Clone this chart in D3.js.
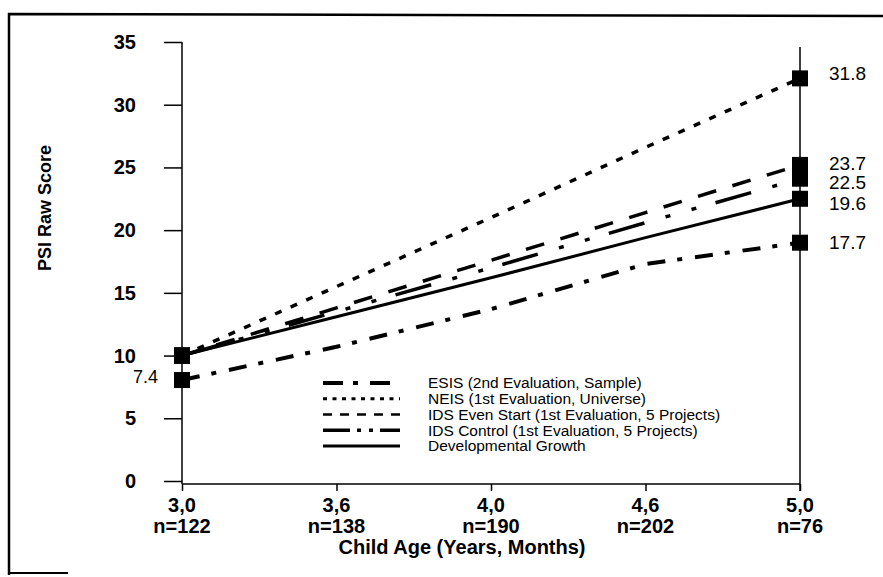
<!DOCTYPE html>
<html><head><meta charset="utf-8">
<script src="https://cdn.jsdelivr.net/npm/d3@7"></script>
<style>body{margin:0;background:#fff}svg{display:block}text{font-family:"Liberation Sans",Arial,sans-serif}</style>
</head><body><svg id="c" width="883" height="577"></svg>
<script>
const ages = ["3,0","3,6","4,0","4,6","5,0"];
const ns = ["n=122","n=138","n=190","n=202","n=76"];
const yTicks = [0,5,10,15,20,25,30,35];
const esis = [8.05, 10.7, 13.7, 17.3, 19.0];
const neis = [10.0, 15.5, 21.0, 26.6, 32.1];
const idsEven = [10.0, 13.8, 17.6, 21.4, 25.2];
const idsControl = [10.0, 13.5, 17.0, 20.6, 24.1];
const devGrowth = [10.0, 13.1, 16.2, 19.4, 22.5];
const seriesNames = ["ESIS (2nd Evaluation, Sample)","NEIS (1st Evaluation, Universe)","IDS Even Start (1st Evaluation, 5 Projects)","IDS Control (1st Evaluation, 5 Projects)","Developmental Growth"];
const endLabels = ["17.7","31.8","23.7","22.5","19.6"];
const startLabel = "7.4";

const svg = d3.select("#c");
const x = d3.scalePoint().domain(ages).range([182, 800]);
const y = d3.scaleLinear().domain([0, 35]).range([481, 42]);

const styles = [
  {dash:"18,12,5,13", w:4, ldash:"20,10,5,12", lw:4},
  {dash:"7,10", w:3.5, ldash:"4,5.5", lw:3},
  {dash:"19,17", w:3.5, ldash:"9,8", lw:2.5},
  {dash:"37,22,5,22,5,20", w:3.5, ldash:"27,7,4,8,4,7", lw:3.5},
  {dash:null, w:3, ldash:null, lw:3}
];
const data = [esis, neis, idsEven, idsControl, devGrowth];

// frame
svg.append("path").attr("d","M9,575 L9,14 L883,16").attr("fill","none").attr("stroke","#000").attr("stroke-width",2.5);
svg.append("line").attr("x1",9).attr("x2",68).attr("y1",573).attr("y2",573).attr("stroke","#000").attr("stroke-width",2);

// axes
const yAxis = d3.axisLeft(y).tickValues(yTicks).tickSize(18).tickFormat("");
const gy = svg.append("g").attr("transform","translate(182,0)").call(yAxis);
gy.select(".domain").remove();
gy.selectAll(".tick line").attr("stroke","#000").attr("stroke-width",1.5);
svg.append("line").attr("x1",182).attr("x2",182).attr("y1",y(35)).attr("y2",484).attr("stroke","#000").attr("stroke-width",1.5);
svg.selectAll(".ylab").data(yTicks).join("text").attr("class","ylab")
  .attr("x",136).attr("y",d=>y(d)).attr("dy","0.35em").attr("text-anchor","end")
  .attr("font-size",20).attr("font-weight","bold").text(d=>d);

const xAxis = d3.axisBottom(x).tickSize(7).tickFormat("");
const gx = svg.append("g").attr("transform","translate(0,484)").call(xAxis);
gx.select(".domain").remove();
gx.selectAll(".tick line").attr("stroke","#000").attr("stroke-width",1.5);
svg.append("line").attr("x1",182).attr("x2",800).attr("y1",484).attr("y2",484).attr("stroke","#000").attr("stroke-width",1.5);
svg.append("line").attr("x1",800).attr("x2",800).attr("y1",47).attr("y2",491).attr("stroke","#000").attr("stroke-width",1.5);

svg.selectAll(".xlab").data(ages).join("text").attr("class","xlab")
  .attr("x",d=>x(d)).attr("y",505).attr("dy","0.35em").attr("text-anchor","middle").attr("font-size",20).attr("font-weight","bold").text(d=>d);
svg.selectAll(".nlab").data(ns).join("text").attr("class","nlab")
  .attr("x",(d,i)=>x(ages[i])).attr("y",526).attr("dy","0.35em").attr("text-anchor","middle").attr("font-size",20).attr("font-weight","bold").text(d=>d);
svg.append("text").attr("x",462).attr("y",547).attr("dy","0.35em").attr("text-anchor","middle").attr("font-size",20).attr("font-weight","bold").text("Child Age (Years, Months)");
svg.append("text").attr("transform","translate(51,208) rotate(-90)").attr("text-anchor","middle").attr("font-size",18).attr("font-weight","bold").text("PSI Raw Score");

// lines
const line = d3.line().x((d,i)=>x(ages[i])).y(d=>y(d));
data.forEach((s,k)=>{
  svg.append("path").attr("d",line(s)).attr("fill","none").attr("stroke","#000")
    .attr("stroke-width",styles[k].w).attr("stroke-dasharray",styles[k].dash).attr("stroke-linecap","butt");
});
// markers
const sq = 16;
data.forEach(s=>{
  [0,4].forEach(i=>{
    svg.append("rect").attr("x",x(ages[i])-sq/2).attr("y",y(s[i])-sq/2).attr("width",sq).attr("height",sq).attr("fill","#000");
  });
});
// end labels
const dys = [0,-5,-2,4,5];
data.forEach((s,k)=>{
  svg.append("text").attr("x",829).attr("y",y(s[4])+dys[k]).attr("dy","0.35em").attr("font-size",19).text(endLabels[k]);
});
svg.append("text").attr("x",158).attr("y",y(esis[0])-3).attr("dy","0.35em").attr("text-anchor","end").attr("font-size",18).text(startLabel);

// legend
const lg = svg.append("g");
seriesNames.forEach((n,k)=>{
  const ly = 383 + k*15.75;
  lg.append("line").attr("x1",323).attr("x2",400).attr("y1",ly).attr("y2",ly).attr("stroke","#000")
    .attr("stroke-width",styles[k].lw).attr("stroke-dasharray",styles[k].ldash);
  lg.append("text").attr("x",428).attr("y",ly).attr("dy","0.35em").attr("font-size",15.5).text(n);
});
</script></body></html>
